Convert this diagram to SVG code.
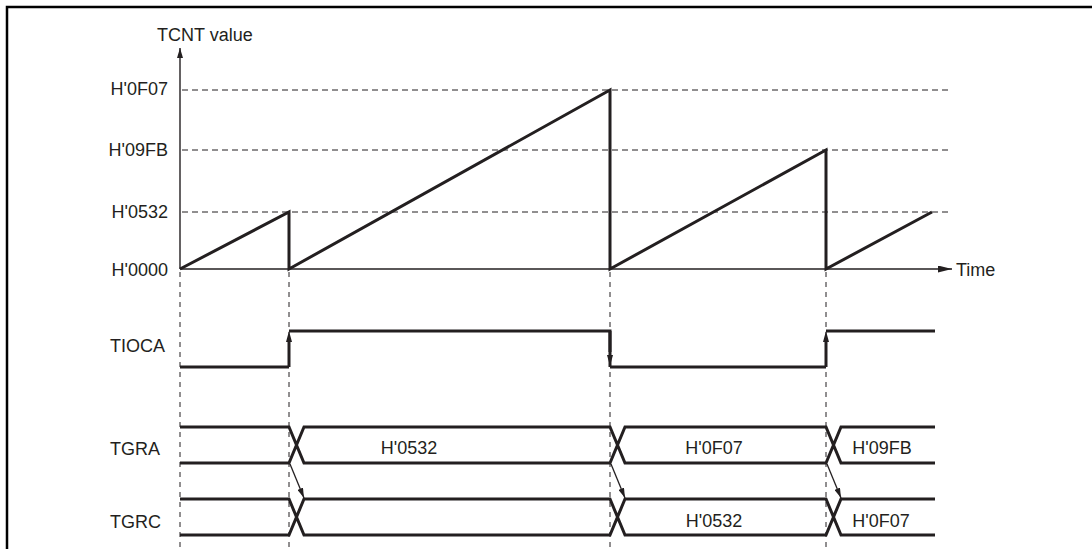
<svg xmlns="http://www.w3.org/2000/svg" width="1092" height="549" viewBox="0 0 1092 549">
<defs>
<style>
text{font-family:"Liberation Sans",Arial,sans-serif;font-size:18px;fill:#231f20}
.lbl{text-anchor:end}
.val{text-anchor:middle}
.axis{stroke:#231f20;stroke-width:1.4;fill:none}
.grid{stroke:#231f20;stroke-width:1;stroke-dasharray:6 4;fill:none}
.vgrid{stroke:#231f20;stroke-width:1;stroke-dasharray:5 5;fill:none}
.sig{stroke:#231f20;stroke-width:3;fill:none;stroke-linejoin:miter}
.thin{stroke:#231f20;stroke-width:1.3;fill:none}
</style>
<marker id="ah" viewBox="0 0 10 6" refX="10" refY="3" markerWidth="10" markerHeight="6" markerUnits="userSpaceOnUse" orient="auto">
<path d="M0,0 L10,3 L0,6 Z" fill="#231f20"/>
</marker>
<marker id="ahL" viewBox="0 0 14 7" refX="14" refY="3.5" markerWidth="14" markerHeight="7" markerUnits="userSpaceOnUse" orient="auto">
<path d="M0,0 L14,3.5 L0,7 Z" fill="#231f20"/>
</marker>
</defs>
<rect width="1092" height="549" fill="#fff"/>
<g id="frame">
<path d="M7,549 V7 H1092" stroke="#000" stroke-width="2.5" fill="none"/>
</g>
<g id="axes">
<line class="axis" x1="180" y1="269" x2="180" y2="48" marker-end="url(#ah)"/>
<line class="axis" x1="180" y1="269" x2="952" y2="269" marker-end="url(#ahL)"/>
<text x="157" y="41">TCNT value</text>
<text x="956" y="276">Time</text>
</g>
<g id="levels">
<line class="grid" x1="182" y1="90" x2="948" y2="90"/>
<line class="grid" x1="182" y1="150" x2="948" y2="150"/>
<line class="grid" x1="182" y1="212" x2="948" y2="212"/>
<text class="lbl" x="168" y="95">H'0F07</text>
<text class="lbl" x="168" y="156">H'09FB</text>
<text class="lbl" x="168" y="218">H'0532</text>
<text class="lbl" x="168" y="276">H'0000</text>
</g>
<g id="tcnt">
<path class="sig" d="M180,269 L289,212 V269 L610,90 V269 L826,150 V269 L932,212"/>
</g>
<g id="timelines">
<line class="vgrid" x1="180" y1="272" x2="180" y2="549"/>
<line class="vgrid" x1="289" y1="272" x2="289" y2="549"/>
<line class="vgrid" x1="610" y1="272" x2="610" y2="549"/>
<line class="vgrid" x1="826" y1="272" x2="826" y2="549"/>
</g>
<g id="tioca">
<text x="110" y="352">TIOCA</text>
<path class="sig" d="M180,367 H289 M289,331 H610 V352 M610,367 H826 M826,331 H935"/>
<line class="sig" x1="289" y1="367" x2="289" y2="340"/>
<path d="M286,342 L289,331 L292,342 Z" fill="#231f20"/>
<line class="sig" x1="610" y1="331" x2="610" y2="356"/>
<path d="M607,355 L610,366 L613,355 Z" fill="#231f20"/>
<path d="M610,355 V367" class="sig" stroke-width="1"/>
<line class="sig" x1="826" y1="367" x2="826" y2="340"/>
<path d="M823,342 L826,331 L829,342 Z" fill="#231f20"/>
</g>
<g id="tgra">
<text x="110" y="455">TGRA</text>
<path class="sig" d="M180,427 H289 L304,463 H610 L625,427 H826 L841,463 H935 M180,463 H289 L304,427 H610 L625,463 H826 L841,427 H935"/>
<text class="val" x="409" y="454">H'0532</text>
<text class="val" x="714" y="454">H'0F07</text>
<text class="val" x="882" y="454">H'09FB</text>
</g>
<g id="tgrc">
<text x="110" y="528">TGRC</text>
<path class="sig" d="M180,499 H289 L304,535 H610 L625,499 H826 L841,535 H935 M180,535 H289 L304,499 H610 L625,535 H826 L841,499 H935"/>
<text class="val" x="714" y="527">H'0532</text>
<text class="val" x="881" y="527">H'0F07</text>
</g>
<g id="connectors">
<line class="thin" x1="290" y1="464" x2="304" y2="498" marker-end="url(#ah)"/>
<line class="thin" x1="611" y1="464" x2="625" y2="498" marker-end="url(#ah)"/>
<line class="thin" x1="827" y1="464" x2="841" y2="498" marker-end="url(#ah)"/>
</g>
</svg>
